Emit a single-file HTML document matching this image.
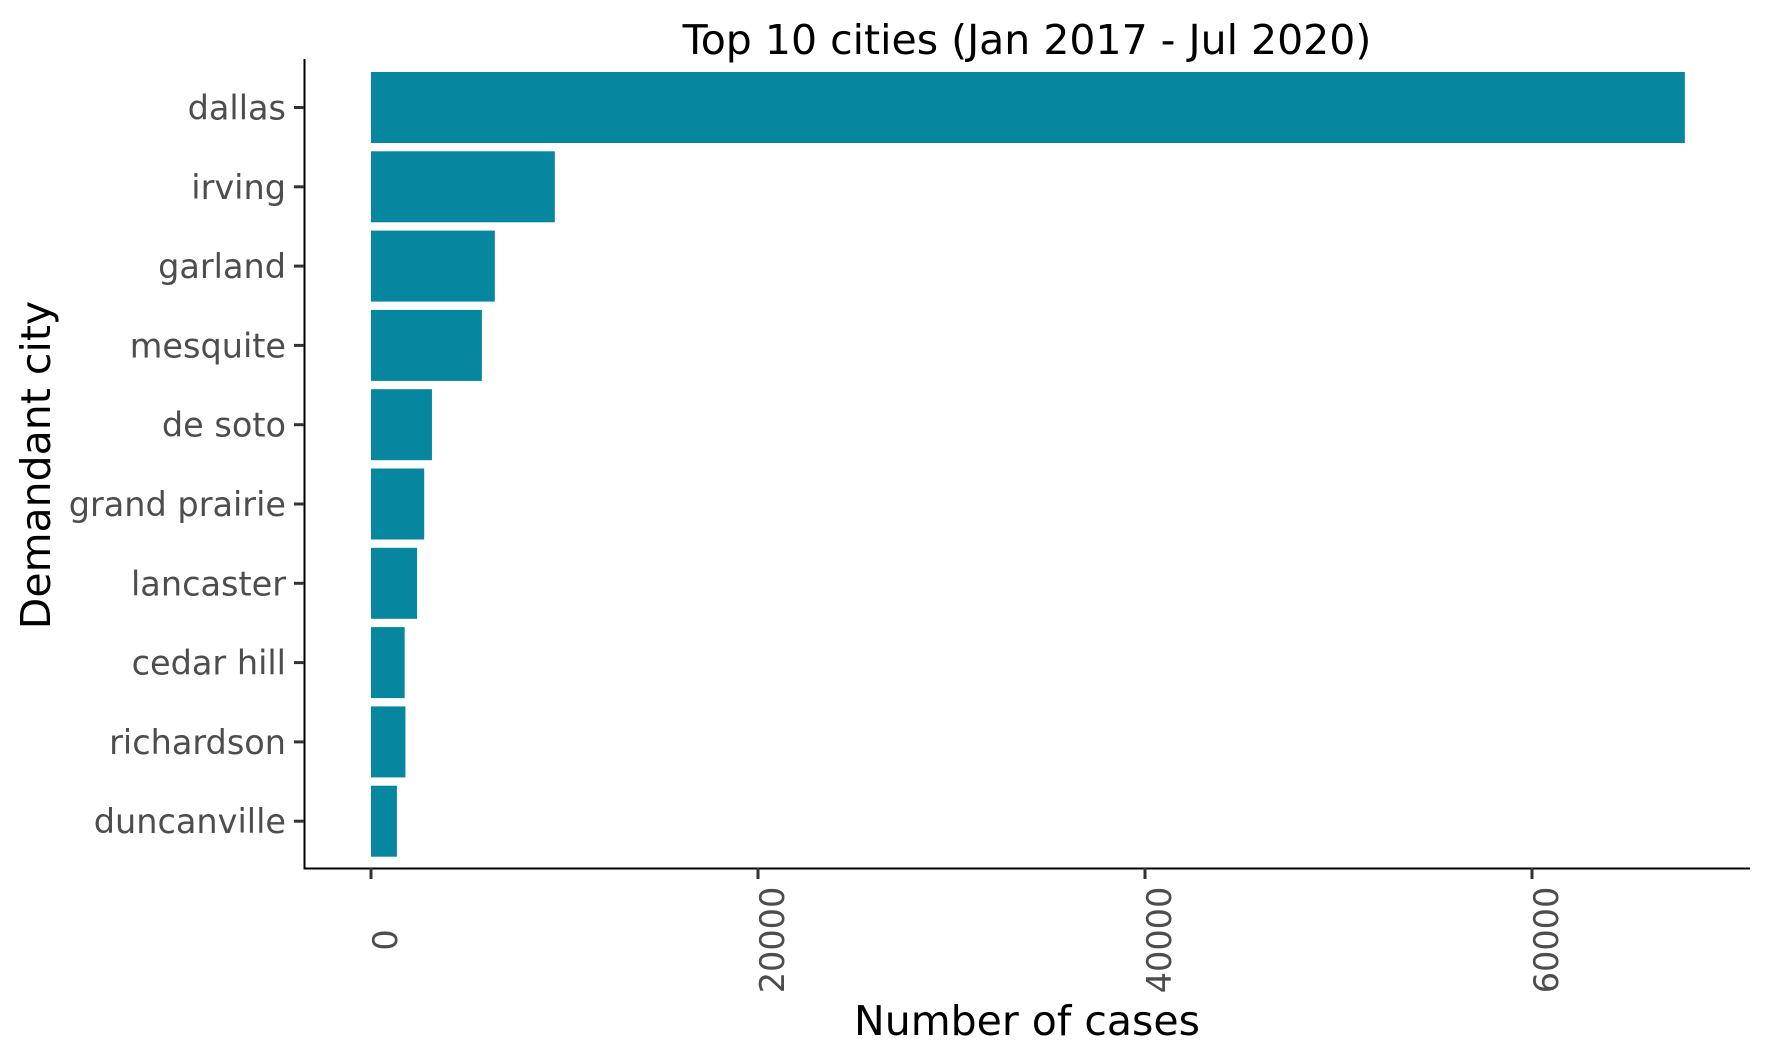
<!DOCTYPE html>
<html><head><meta charset="utf-8"><style>
body{margin:0;background:#fff;}
svg{display:block;font-family:"DejaVu Sans","Liberation Sans",sans-serif;}
</style></head><body>
<svg id="chart" width="1771" height="1062" viewBox="0 0 1771 1062">
<rect width="1771" height="1062" fill="#fff"/>
<text x="1027" y="54" font-size="41" text-anchor="middle" fill="#000">Top 10 cities (Jan 2017 - Jul 2020)</text>
<g id="bars"></g>
<line x1="304.5" y1="59" x2="304.5" y2="869" stroke="#000" stroke-width="2"/>
<line x1="303.5" y1="868.5" x2="1750" y2="868.5" stroke="#000" stroke-width="2"/>
<g id="yticks"></g>
<g id="xticks"></g>
<text x="1027" y="1035" font-size="41" text-anchor="middle" fill="#000">Number of cases</text>
<text transform="translate(50,465) rotate(-90)" font-size="41" text-anchor="middle" fill="#000">Demandant city</text>
</svg>
<script>
const categories = ["dallas","irving","garland","mesquite","de soto","grand prairie","lancaster","cedar hill","richardson","duncanville"];
const values = [67900,9500,6400,5730,3150,2750,2380,1740,1780,1340];
const xTicks = [0,20000,40000,60000];
const xTickLabels = ["0","20000","40000","60000"];

const NS="http://www.w3.org/2000/svg";
const x0=371, pxPer=(1532-371)/60000;
const xs=v=>x0+v*pxPer;
const yTop=72, pitch=79.3, bh=71;
const yc=i=>yTop+bh/2+i*pitch;
function mk(tag,attrs,parent){const e=document.createElementNS(NS,tag);for(const k in attrs)e.setAttribute(k,attrs[k]);parent.appendChild(e);return e;}
const bars=document.getElementById('bars'), yt=document.getElementById('yticks'), xt=document.getElementById('xticks');
categories.forEach((c,i)=>{
  const r=mk('rect',{x:xs(0),y:yc(i)-bh/2,width:xs(values[i])-xs(0),height:bh,fill:'#06879f'},bars);
  
  
  const t=mk('line',{x1:294,x2:304,y1:yc(i),y2:yc(i),stroke:'#333',"stroke-width":3},yt);
  
  
  const l=mk('text',{x:286,y:yc(i)+12,"font-size":33.5,"text-anchor":"end",fill:'#4d4d4d'},yt);
  l.textContent=c;
  
  
});
xTicks.forEach((v,i)=>{
  const x=xs(v);
  const t=mk('line',{x1:x,x2:x,y1:868,y2:879,stroke:'#333',"stroke-width":3},xt);
  
  
  const l=mk('text',{transform:`translate(${x+26},940) rotate(-90)`,"font-size":33.5,"text-anchor":"middle",fill:'#4d4d4d'},xt);
  l.textContent=xTickLabels[i];
  
  
});
</script>
</body></html>
